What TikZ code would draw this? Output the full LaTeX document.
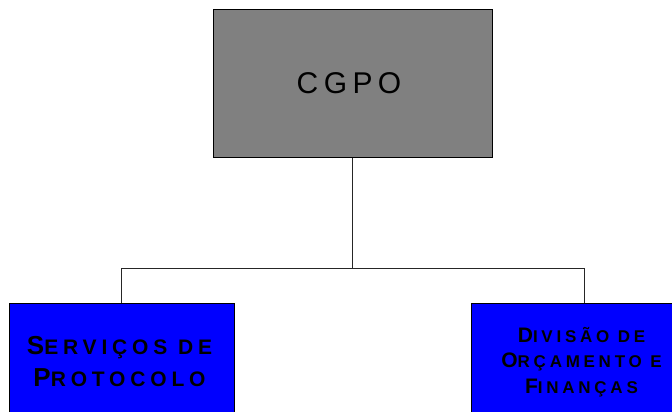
\documentclass[tikz,border=0pt]{standalone}
\usepackage{fontspec}
\setmainfont{Liberation Sans}
\newfontfamily\topfont{Liberation Sans}[LetterSpace=18]
\newfontfamily\leftfont{Liberation Sans}[LetterSpace=23]
\newfontfamily\rightfont{Liberation Sans}[LetterSpace=22]
\definecolor{boxgray}{HTML}{808080}
\definecolor{boxblue}{HTML}{0000FF}
\newcommand\LBig[1]{{\fontsize{26}{32}\selectfont #1}}
\newcommand\LSm[1]{{\fontsize{21}{32}\selectfont #1}}
\newcommand\RBig[1]{{\fontsize{21}{25.5}\selectfont #1}}
\newcommand\RSm[1]{{\fontsize{17}{25.5}\selectfont #1}}
\begin{document}
\begin{tikzpicture}[x=1pt,y=-1pt,
  orgbox/.style={draw=black, line width=1pt, inner sep=0pt, anchor=center},
  boxtext/.style={inner sep=0pt, align=center, text=black},
  link/.style={draw=black!85, line width=1pt}]
\useasboundingbox (0,0) rectangle (672,412);
\clip (0,0) rectangle (672,412);
\node[orgbox, fill=boxgray, minimum width=279pt, minimum height=147pt] (top) at (352.5,83.5) {};
\node[boxtext, font=\topfont\fontsize{30}{32}\selectfont] (toptext) at ([xshift=-3.5pt]top.center) {CGPO};
\node[orgbox, fill=boxblue, minimum width=225pt, minimum height=114pt] (left) at (121.5,360) {};
\node[boxtext, font=\leftfont\bfseries\fontsize{21}{32}\selectfont] (lefttext) at ([xshift=-2pt,yshift=-1.5pt]left.center)
  {\LBig{S}\LSm{ERVIÇOS DE}\\\LBig{P}\LSm{ROTOCOLO}};
\node[orgbox, fill=boxblue, minimum width=226pt, minimum height=114pt] (right) at (584,360) {};
\node[boxtext, font=\rightfont\bfseries\fontsize{17}{25.5}\selectfont] (righttext) at ([xshift=-2.5pt,yshift=-2pt]right.center)
  {\RBig{D}\RSm{IVISÃO DE}\\\RBig{O}\RSm{RÇAMENTO E}\\\RBig{F}\RSm{INANÇAS}};
\coordinate (busL) at (121.5,268);
\coordinate (busR) at (584,268);
\draw[link] (top.south) -- (top.south |- busL);
\draw[link] (left.north) -- (busL) -- (busR) -- (right.north);
\end{tikzpicture}
\end{document}
